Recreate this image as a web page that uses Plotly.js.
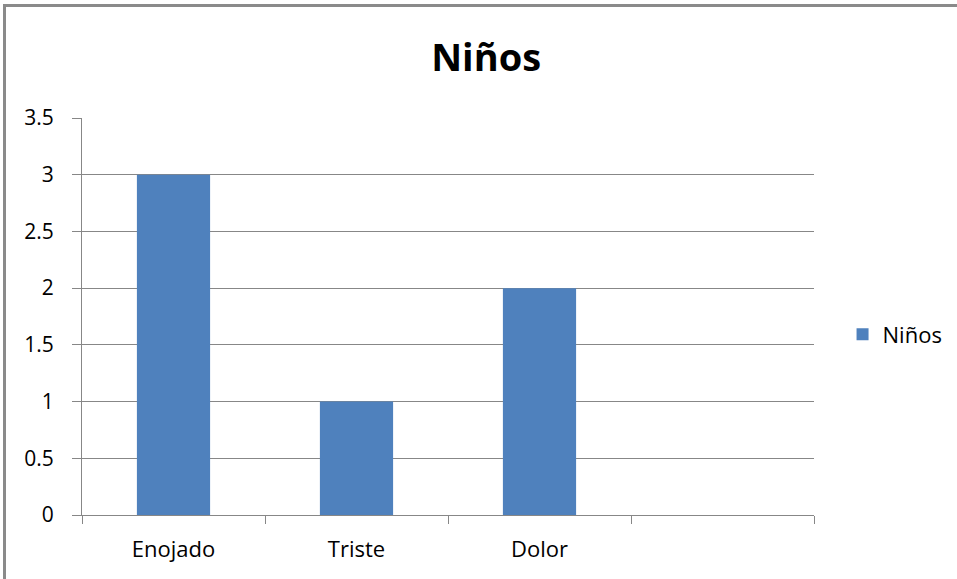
<!DOCTYPE html>
<html>
<head>
<meta charset="utf-8">
<script src="https://cdn.plot.ly/plotly-3.0.1.min.js"></script>
<style>
  html, body { margin: 0; padding: 0; background: #ffffff; }
  #wrap { position: relative; width: 957px; height: 579px; overflow: hidden; }
  #chart { position: absolute; left: 0; top: 0; width: 957px; height: 579px; }
  .bt { position: absolute; left: 3px; top: 4px; width: 954px; height: 3px; background: #8a8a8a; }
  .bl { position: absolute; left: 3px; top: 4px; width: 3px; height: 575px; background: #8a8a8a; }
</style>
</head>
<body>
<div id="wrap">
  <div id="chart"></div>
  <div class="bt"></div>
  <div class="bl"></div>
</div>
<script>
const categories = ["Enojado", "Triste", "Dolor", " "];
const values = [3, 1, 2, null];
const seriesName = "Niños";
const titleText = "Niños";
const yTickVals = [0, 0.5, 1, 1.5, 2, 2.5, 3, 3.5];
const yTickText = ["0", "0.5", "1", "1.5", "2", "2.5", "3", "3.5"];

const fontFam = "Open Sans, sans-serif";
const gridColor = "#878787";

const trace = {
  type: "bar",
  x: categories,
  y: values,
  name: seriesName,
  marker: { color: "#4F81BD", line: { width: 0 } },
  showlegend: true
};

const layout = {
  width: 957,
  height: 579,
  margin: { l: 82, r: 143, t: 118, b: 64, autoexpand: false },
  paper_bgcolor: "#ffffff",
  plot_bgcolor: "#ffffff",
  font: { family: fontFam, size: 21, color: "#000000" },
  bargap: 0.6,
  title: {
    text: titleText,
    font: { family: fontFam, size: 38, color: "#000000", weight: "bold" },
    x: 0.508, xref: "container", xanchor: "center",
    y: 0.9, yref: "container", yanchor: "middle"
  },
  xaxis: {
    type: "category",
    categoryorder: "array",
    categoryarray: categories,
    range: [-0.5, 3.5],
    showgrid: false,
    showline: true,
    linecolor: gridColor,
    linewidth: 1,
    ticks: "outside",
    tickson: "boundaries",
    ticklen: 8,
    tickcolor: gridColor,
    tickwidth: 1,
    ticklabelstandoff: 15,
    tickfont: { family: fontFam, size: 22, color: "#000000" },
    zeroline: false,
    fixedrange: true
  },
  yaxis: {
    range: [0, 3.5],
    tickvals: yTickVals,
    ticktext: yTickText,
    showgrid: true,
    gridcolor: gridColor,
    gridwidth: 1,
    showline: true,
    linecolor: gridColor,
    linewidth: 1,
    ticks: "outside",
    ticklen: 9,
    tickcolor: gridColor,
    tickwidth: 1,
    ticklabelstandoff: 14,
    tickfont: { family: fontFam, size: 21, color: "#000000" },
    zeroline: false,
    fixedrange: true
  },
  showlegend: true,
  legend: {
    x: 1.039, xanchor: "left",
    y: 0.455, yanchor: "middle",
    font: { family: fontFam, size: 22, color: "#000000" },
    bgcolor: "rgba(0,0,0,0)",
    borderwidth: 0
  }
};

Plotly.newPlot("chart", [trace], layout, { displayModeBar: false, staticPlot: true });
</script>
</body>
</html>
